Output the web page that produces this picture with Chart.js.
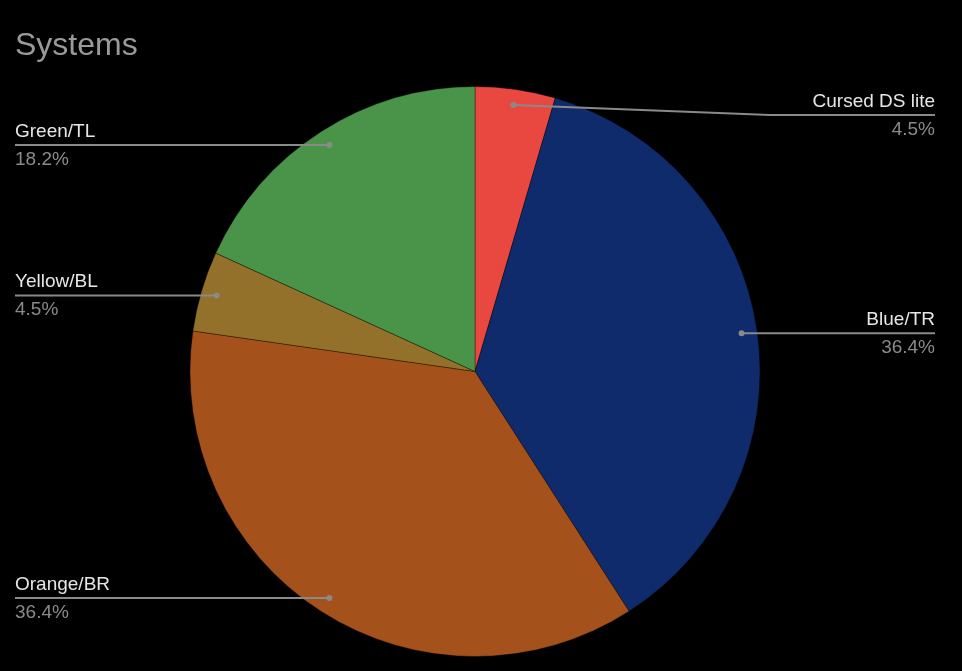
<!DOCTYPE html>
<html>
<head>
<meta charset="utf-8">
<script src="https://cdn.jsdelivr.net/npm/chart.js@4"></script>
<style>
  html, body { margin: 0; padding: 0; background: #000; }
  #wrap { width: 962px; height: 671px; }
</style>
</head>
<body>
<div id="wrap"><canvas id="chartPie"></canvas></div>
<script>
// Dados do gráfico
const labels = ['Cursed DS lite', 'Blue/TR', 'Orange/BR', 'Yellow/BL', 'Green/TL'];
const valores = [1, 8, 8, 1, 4];
const cores = ['#e8483f', '#0f2b6b', '#a5511c', '#94712a', '#4a9449'];

// Plugin para título e rótulos com linhas de chamada
const rotulosPlugin = {
    id: 'rotulos',
    afterDraw(chart) {
        const ctx = chart.ctx;
        const total = valores.reduce((a, b) => a + b, 0);
        ctx.save();
        ctx.font = '32px "Liberation Sans", Arial, sans-serif';
        ctx.fillStyle = '#9a9a9a';
        ctx.textBaseline = 'alphabetic';
        ctx.fillText('Systems', 15, 55);

        const meta = chart.getDatasetMeta(0);
        meta.data.forEach((arc, i) => {
            const p = arc.getProps(['x', 'y', 'startAngle', 'endAngle', 'outerRadius'], true);
            const mid = (p.startAngle + p.endAngle) / 2;
            const r = p.outerRadius * 0.945;
            const dx = p.x + Math.cos(mid) * r;
            const dy = p.y + Math.sin(mid) * r;
            const direita = Math.cos(mid) >= 0;
            const lineY = Math.max(dy, 115);
            const endX = direita ? 935 : 15;
            const kneeX = direita ? Math.max(dx, 770) : Math.min(dx, 190);

            ctx.strokeStyle = '#8a8a8a';
            ctx.lineWidth = 2;
            ctx.beginPath();
            ctx.moveTo(dx, dy);
            if (lineY !== dy) ctx.lineTo(kneeX, lineY);
            ctx.lineTo(endX, lineY);
            ctx.stroke();
            ctx.fillStyle = '#8a8a8a';
            ctx.beginPath();
            ctx.arc(dx, dy, 3, 0, Math.PI * 2);
            ctx.fill();

            ctx.textAlign = direita ? 'right' : 'left';
            ctx.font = '19px "Liberation Sans", Arial, sans-serif';
            ctx.fillStyle = '#e6e6e6';
            ctx.textBaseline = 'bottom';
            ctx.fillText(labels[i], endX, lineY - 4);
            ctx.fillStyle = '#8a8a8a';
            ctx.textBaseline = 'top';
            ctx.fillText((valores[i] / total * 100).toFixed(1) + '%', endX, lineY + 5);
        });
        ctx.restore();
    }
};

window.addEventListener('DOMContentLoaded', function() {
    const ctxPie = document.getElementById('chartPie').getContext('2d');
    new Chart(ctxPie, {
        type: 'pie',
        data: {
            labels: labels,
            datasets: [{
                data: valores,
                backgroundColor: cores,
                borderColor: 'rgba(0,0,0,0.35)',
                borderWidth: 1
            }]
        },
        options: {
            responsive: true,
            maintainAspectRatio: false,
            animation: false,
            layout: { padding: { top: 86, bottom: 14, left: 0, right: 12 } },
            plugins: {
                legend: { display: false },
                tooltip: { enabled: false }
            }
        },
        plugins: [rotulosPlugin]
    });
});
</script>
</body>
</html>
